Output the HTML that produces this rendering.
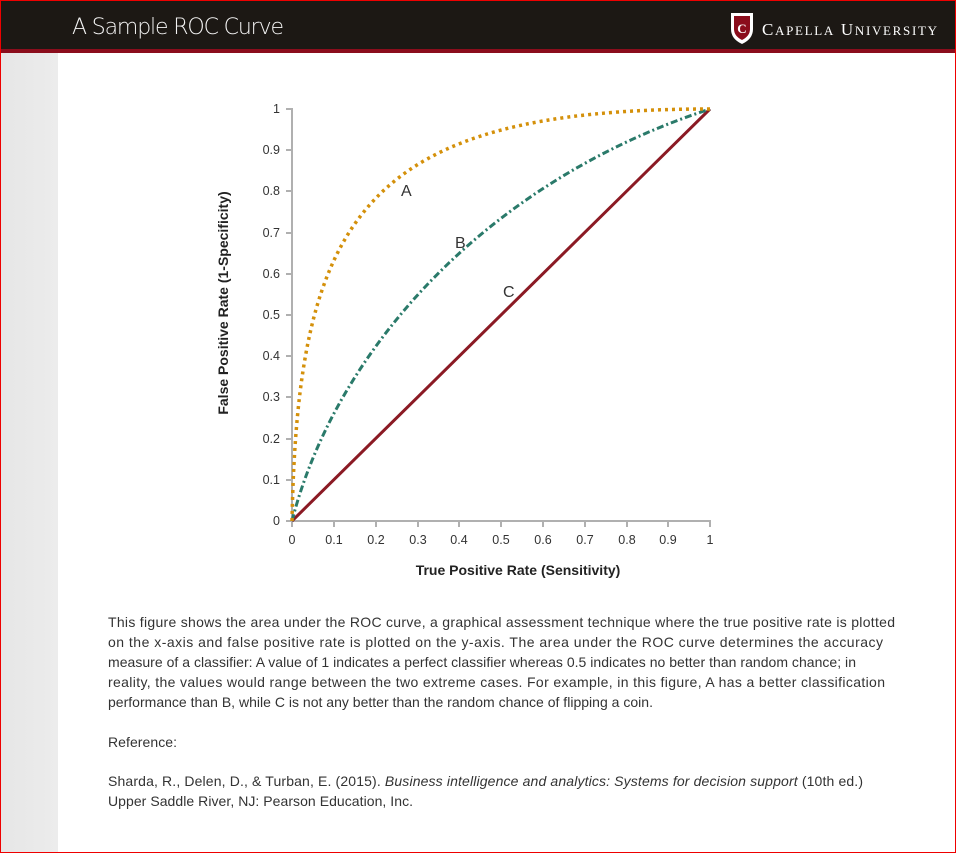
<!DOCTYPE html>
<html><head><meta charset="utf-8"><style>
html,body{margin:0;padding:0;background:#fff;}
body{width:956px;height:853px;overflow:hidden;position:relative;font-family:"Liberation Sans",sans-serif;}
</style></head><body>
<svg width="956" height="853" viewBox="0 0 956 853" xmlns="http://www.w3.org/2000/svg" style="position:absolute;left:0;top:0">
<defs><linearGradient id="g" x1="0" x2="1"><stop offset="0" stop-color="#e6e6e6"/><stop offset="1" stop-color="#ececec"/></linearGradient></defs>
<rect x="0" y="0" width="956" height="853" fill="#fff"/>
<rect x="1" y="52" width="57" height="800" fill="url(#g)"/>
<rect x="0" y="0" width="956" height="50" fill="#1c1814"/>
<rect x="0" y="49" width="956" height="4" fill="#8b0d1c"/>
<text x="72" y="34" fill="#f4f4f4" font-size="22" font-family="DejaVu Sans,sans-serif" font-weight="200" textLength="212">A Sample ROC Curve</text>
<path d="M731,13 h22 v16 q0,10 -11,15 q-11,-5 -11,-15z" fill="#fff"/>
<path d="M734,16 h16 v13 q0,7 -8,11 q-8,-4 -8,-11z" fill="#8b0d1c"/>
<text x="742" y="33" fill="#fff" font-size="13" text-anchor="middle" font-family="Liberation Serif,serif" font-weight="bold">C</text>
<text x="762" y="35" fill="#fff" font-size="17" font-family="Liberation Serif,serif" textLength="175">C<tspan font-size="13">APELLA</tspan> U<tspan font-size="13">NIVERSITY</tspan></text>
<rect x="0.5" y="0.5" width="955" height="852" fill="none" stroke="#e00" stroke-width="1"/>

<g stroke="#b0b0b0" stroke-width="2" fill="none">
<line x1="292" y1="108" x2="292" y2="522"/>
<line x1="291" y1="521" x2="711" y2="521"/>
<path d="M286,109h6M286,150h6M286,191h6M286,233h6M286,274h6M286,315h6M286,356h6M286,397h6M286,439h6M286,480h6M286,521h6"/>
<path d="M292,521v6M334,521v6M376,521v6M418,521v6M459,521v6M501,521v6M543,521v6M585,521v6M627,521v6M668,521v6M710,521v6"/>
</g>
<g font-size="12.5" fill="#333" text-anchor="end">
<text x="280" y="113">1</text><text x="280" y="154">0.9</text><text x="280" y="195">0.8</text><text x="280" y="237">0.7</text><text x="280" y="278">0.6</text><text x="280" y="319">0.5</text><text x="280" y="360">0.4</text><text x="280" y="401">0.3</text><text x="280" y="443">0.2</text><text x="280" y="484">0.1</text><text x="280" y="525">0</text>
</g>
<g font-size="12.5" fill="#333" text-anchor="middle">
<text x="292" y="544">0</text><text x="334" y="544">0.1</text><text x="376" y="544">0.2</text><text x="418" y="544">0.3</text><text x="459" y="544">0.4</text><text x="501" y="544">0.5</text><text x="543" y="544">0.6</text><text x="585" y="544">0.7</text><text x="627" y="544">0.8</text><text x="668" y="544">0.9</text><text x="710" y="544">1</text>
</g>
<text x="518" y="575" font-size="14" font-weight="bold" fill="#222" text-anchor="middle">True Positive Rate (Sensitivity)</text>
<text transform="translate(228,303) rotate(-90)" font-size="14" font-weight="bold" fill="#222" text-anchor="middle">False Positive Rate (1-Specificity)</text>

<line x1="292" y1="521" x2="710" y2="109" stroke="#8b1a24" stroke-width="3"/>
<path d="M292,521 C334,356 480,184 710,109" fill="none" stroke="#2a7a6a" stroke-width="3" stroke-dasharray="7,3,2,3"/>
<path d="M292,521 C298,215 365,109 710,109" fill="none" stroke="#d4900a" stroke-width="3.5" stroke-dasharray="3,4"/>
<g font-size="16" fill="#333"><text x="401" y="196">A</text><text x="455" y="248">B</text><text x="503" y="297">C</text></g>

<g font-size="14" fill="#333">
<text x="108" y="627" textLength="787">This figure shows the area under the ROC curve, a graphical assessment technique where the true positive rate is plotted</text>
<text x="108" y="647" textLength="775">on the x-axis and false positive rate is plotted on the y-axis. The area under the ROC curve determines the accuracy</text>
<text x="108" y="667" textLength="748">measure of a classifier: A value of 1 indicates a perfect classifier whereas 0.5 indicates no better than random chance; in</text>
<text x="108" y="687" textLength="777">reality, the values would range between the two extreme cases. For example, in this figure, A has a better classification</text>
<text x="108" y="707" textLength="545">performance than B, while C is not any better than the random chance of flipping a coin.</text>
<text x="108" y="747" textLength="69">Reference:</text>
<text x="108" y="786" textLength="755">Sharda, R., Delen, D., &amp; Turban, E. (2015). <tspan font-style="italic">Business intelligence and analytics: Systems for decision support</tspan> (10th ed.)</text>
<text x="108" y="806" textLength="305">Upper Saddle River, NJ: Pearson Education, Inc.</text>
</g>
</svg>
</body></html>
